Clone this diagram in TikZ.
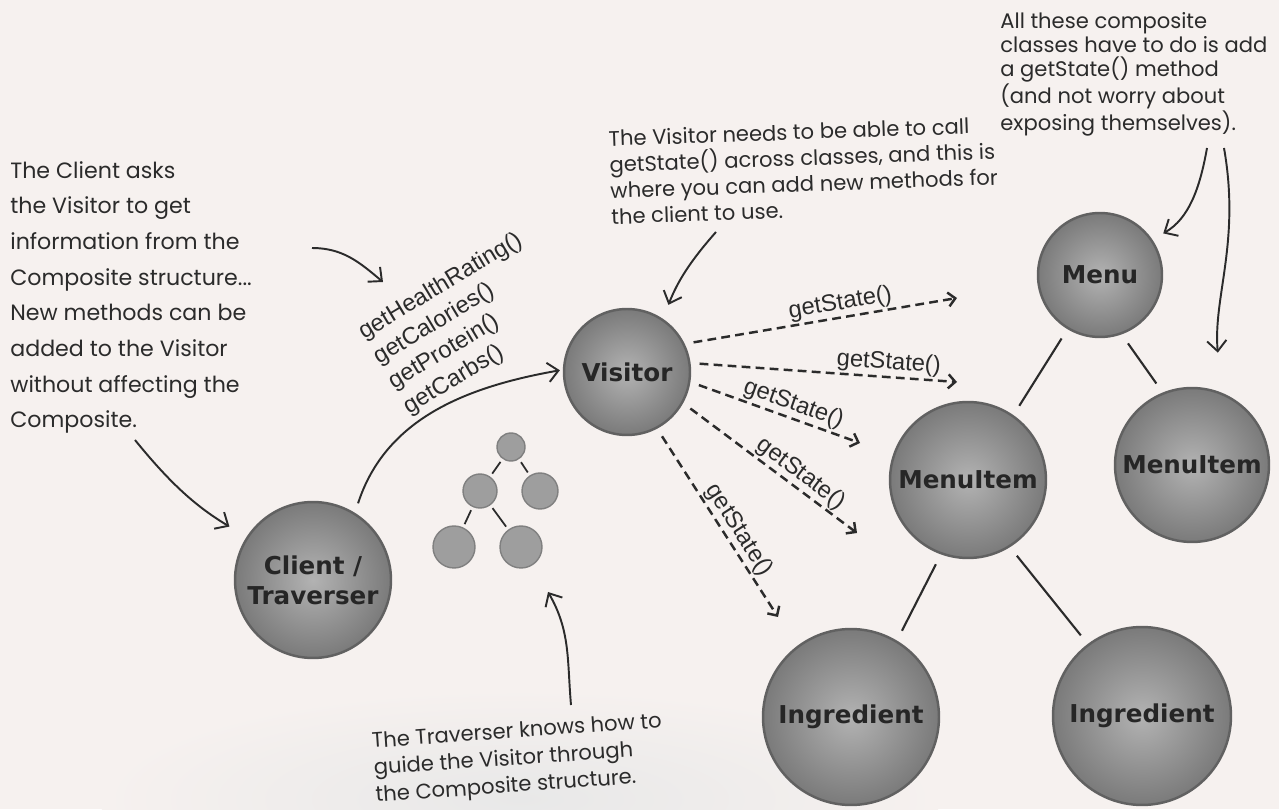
\documentclass[tikz,border=0pt]{standalone}
\usepackage{fontspec}
\usepackage{tikz}
\usetikzlibrary{arrows.meta,positioning,calc}
\newfontfamily\handfont{Poppins}
\newfontfamily\ballfont{DejaVu Sans}
\newfontfamily\codefont{Liberation Sans}
\definecolor{paper}{HTML}{F6F1EF}
\definecolor{ink}{HTML}{2B2B2B}

\begin{document}
\begin{tikzpicture}[
  x=0.02cm, y=0.02cm,
  ball/.style={circle, draw=black!62, line width=1.4pt, inner color=black!30, outer color=black!52, text=black!85, align=center, inner sep=0pt, font=\ballfont\bfseries\fontsize{14}{17}\selectfont},
  twig/.style={circle, draw=black!50, line width=0.8pt, fill=black!38, inner sep=0pt},
  note/.style={anchor=north west, align=left, inner sep=0pt, text=ink},
  call/.style={font=\codefont\fontsize{13.5}{16.5}\selectfont, text=ink, inner sep=1pt},
  handarrow/.style={-{Straight Barb[length=6pt,width=11pt]}, line width=1.1pt, draw=ink},
  callarrow/.style={dash pattern=on 5pt off 3pt, -{Straight Barb[length=4pt,width=8pt]}, line width=1.4pt, draw=ink},
  link/.style={line width=1.2pt, draw=ink, shorten <=0.22cm, shorten >=0.22cm}
]
  \useasboundingbox (0,0) rectangle (1279,809);
  \fill[paper] (0,0) rectangle (1279,809);
  \shade[inner color=black!9, outer color=paper] (520,10) ellipse (420 and 110);

  % the composite structure
  \node[ball, minimum size=3.12cm] (c_client) at (313,229) {Client /\\Traverser};
  \node[ball, minimum size=2.52cm] (c_visitor) at (627,437) {Visitor};
  \node[ball, minimum size=2.48cm] (c_menu) at (1100,534) {Menu};
  \node[ball, minimum size=3.12cm] (c_itemL) at (968,329) {MenuItem};
  \node[ball, minimum size=3.08cm] (c_itemR) at (1192,344) {MenuItem};
  \node[ball, minimum size=3.52cm] (c_ingrL) at (851,92) {Ingredient};
  \node[ball, minimum size=3.56cm] (c_ingrR) at (1142,93) {Ingredient};

  \draw[link] (c_menu.-121) -- (c_itemL.55);
  \draw[link] (c_menu.-70) -- (c_itemR.112);
  \draw[link] (c_itemL.-110) -- (c_ingrL.59);
  \draw[link] (c_itemL.-58) -- (c_ingrR.127);

  % small tree
  \node[twig, minimum size=0.56cm] (t_0) at (511,362) {};
  \node[twig, minimum size=0.68cm] (t_1) at (480,318) {};
  \node[twig, minimum size=0.72cm] (t_2) at (540,318) {};
  \node[twig, minimum size=0.84cm] (t_3) at (454,262) {};
  \node[twig, minimum size=0.84cm] (t_4) at (521,262) {};
  \foreach \a/\b in {0/1, 0/2, 1/3, 1/4}
    \draw[line width=1pt, draw=ink, shorten <=2pt, shorten >=2pt] (t_\a) -- (t_\b);

  % calls
  \node[call, rotate=31, anchor=west, align=left, inner sep=0pt] (m_calls) at (383,437)
    {getHealthRating()\\getCalories()\\getProtein()\\getCarbs()};
  \draw[handarrow, shorten <=0.2cm, shorten >=0.06cm] (c_client.58) to[out=72, in=190] (c_visitor.178);

  \coordinate (g_1) at (957,511);
  \coordinate (g_2) at (957,427);
  \coordinate (g_3) at (860,366);
  \coordinate (g_4) at (857,276);
  \coordinate (g_5) at (778,192);
  \draw[callarrow, shorten <=0.18cm] (c_visitor.26) -- node[call, sloped, above, pos=0.58] {getState()} (g_1);
  \draw[callarrow, shorten <=0.18cm] (c_visitor.8) -- node[call, sloped, above, pos=0.74] {getState()} (g_2);
  \draw[callarrow, shorten <=0.18cm] (c_visitor.-9) -- node[call, sloped, above, pos=0.58] {getState()} (g_3);
  \draw[callarrow, shorten <=0.18cm] (c_visitor.-29) -- node[call, sloped, above, pos=0.63] {getState()} (g_4);
  \draw[callarrow, shorten <=0.18cm] (c_visitor.-62) -- node[call, sloped, above, pos=0.58] {getState()} (g_5);

  % notes
  \node[note, font=\handfont\fontsize{12.6}{20.3}\selectfont] (n_client) at (10,648)
    {The Client asks\\the Visitor to get\\information from the\\Composite structure...\\New methods can be\\added to the Visitor\\without affecting the\\Composite.};
  \node[note, rotate=2, font=\handfont\fontsize{12}{14.8}\selectfont] (n_visitor) at (608,679)
    {The Visitor needs to be able to call\\getState() across classes, and this is\\where you can add new methods for\\the client to use.};
  \node[note, font=\handfont\fontsize{12}{13.7}\selectfont] (n_comp) at (1000,797)
    {All these composite\\classes have to do is add\\a getState() method\\(and not worry about\\exposing themselves).};
  \node[note, rotate=4, font=\handfont\fontsize{12}{15.4}\selectfont] (n_trav) at (371,77)
    {The Traverser knows how to\\guide the Visitor through\\the Composite structure.};

  \coordinate (a_client) at (135,369);
  \coordinate (a_calls0) at (312,561);
  \coordinate (a_calls1) at (383,527);
  \coordinate (a_visitor) at (716,577);
  \coordinate (a_menu) at (1207,661);
  \coordinate (a_item) at (1224,661);
  \coordinate (a_trav0) at (571,104);
  \coordinate (a_trav1) at (548,217);

  \draw[handarrow, shorten >=0.4cm] (a_client) to[bend right=10] (c_client.147);
  \draw[handarrow] (a_calls0) to[out=0, in=140] (a_calls1);
  \draw[handarrow, shorten >=0.3cm] (a_visitor) to[bend right=10] (c_visitor.56);
  \draw[handarrow, shorten >=0.25cm] (a_menu) to[out=-100, in=30] (c_menu.34);
  \draw[handarrow, shorten >=0.8cm] (a_item) to[out=-80, in=95] (c_itemR.68);
  \draw[handarrow] (a_trav0) to[out=95, in=-60] (a_trav1);
\end{tikzpicture}
\end{document}
